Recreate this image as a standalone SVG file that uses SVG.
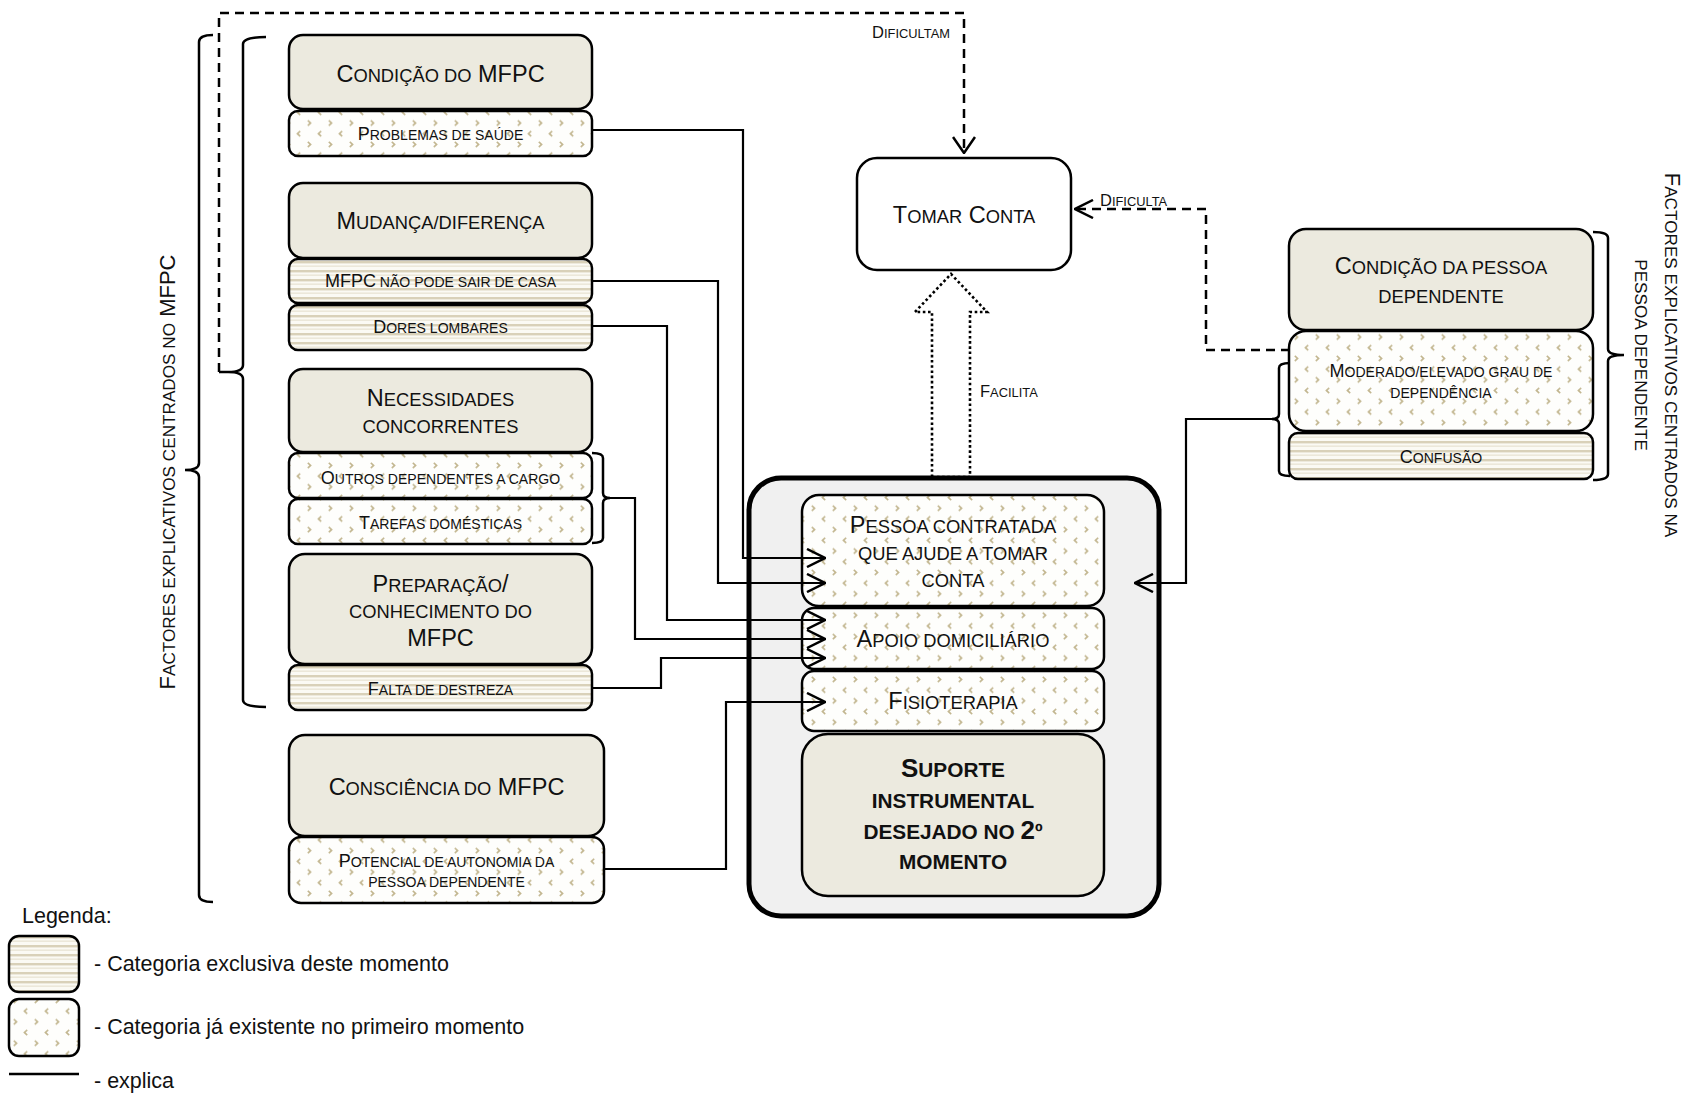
<svg xmlns="http://www.w3.org/2000/svg" width="1686" height="1095" viewBox="0 0 1686 1095">
<defs>
<style>
text{font-family:"Liberation Sans",Arial,sans-serif;fill:#111}
.m{font-size:23.5px;text-anchor:middle}
.s{font-size:18px;text-anchor:middle}
.k{font-size:0.78em}
.bd{font-weight:bold;font-size:26px;text-anchor:middle}
.bd .k{font-size:0.8em}
.lbl{font-size:16.5px}
.leg{font-size:21.5px}
.vt{font-size:22px;text-anchor:middle}
.main{fill:#eceadf;stroke:#000;stroke-width:2.5}
.old{fill:url(#chev);stroke:#000;stroke-width:2.5}
.new{fill:url(#stripes);stroke:#000;stroke-width:2.5}
.ln{fill:none;stroke:#000;stroke-width:2.2}
.dash{fill:none;stroke:#000;stroke-width:2.5;stroke-dasharray:9 6}
.br{fill:none;stroke:#000;stroke-width:2.5}
</style>
<pattern id="stripes" patternUnits="userSpaceOnUse" width="10" height="9">
<rect width="10" height="9" fill="#fbfaf4"/>
<rect y="0" width="10" height="2.4" fill="#d9d1b9"/>
<rect y="4.5" width="10" height="1.3" fill="#e9e4d4"/>
</pattern>
<pattern id="chev" patternUnits="userSpaceOnUse" width="21" height="21.4">
<rect width="21" height="21.4" fill="#fefefc"/>
<path d="M6.2,2.8 L3.4,5.3 L6.2,7.8" fill="none" stroke="#c2b68f" stroke-width="1.6"/>
<path d="M13.8,13.5 L16.6,16 L13.8,18.5" fill="none" stroke="#c2b68f" stroke-width="1.6"/>
</pattern>
<marker id="arr" markerUnits="userSpaceOnUse" viewBox="0 0 20 20" refX="19" refY="10" markerWidth="20" markerHeight="20" orient="auto">
<path d="M1,1 L19,10 L1,19" fill="none" stroke="#000" stroke-width="2.5"/>
</marker>
<marker id="arrd" markerUnits="userSpaceOnUse" viewBox="0 0 18 24" refX="17" refY="12" markerWidth="18" markerHeight="24" orient="auto">
<path d="M1,1 L17,12 L1,23" fill="none" stroke="#000" stroke-width="2.5"/>
</marker>
</defs>

<rect width="1686" height="1095" fill="#fff"/>

<!-- brackets grouping the explanatory factors -->
<g id="brackets">
<path class="br" d="M213,35 Q199,35 199,42 V463 Q199,470 185,470 Q199,470 199,477 V895 Q199,902 213,902"/>
<path class="br" d="M266,37 Q243,37 243,44 V365 Q243,372 228,372 Q243,372 243,379 V700 Q243,707 266,707"/>
<path class="br" d="M592,453 Q603,453 603,458 V493 Q603,498 610,498 Q603,498 603,503 V538 Q603,543 592,543"/>
<path class="br" d="M1104,500 Q1115,500 1115,505 V578 Q1115,583 1126,583 Q1115,583 1115,588 V662 Q1115,667 1104,667"/>
<path class="br" d="M1290,363 Q1279,363 1279,368 V414 Q1279,419 1272,419 Q1279,419 1279,424 V471 Q1279,476 1290,476"/>
<path class="br" d="M1593,232 Q1608,232 1608,238 V349 Q1608,355 1624,355 Q1608,355 1608,361 V474 Q1608,480 1593,480"/>
<text class="vt" transform="translate(175,472) rotate(-90)">F<tspan class="k">ACTORES EXPLICATIVOS CENTRADOS NO</tspan> MFPC</text>
<text class="vt" transform="translate(1665,355) rotate(90)">F<tspan class="k">ACTORES EXPLICATIVOS CENTRADOS NA</tspan></text>
<text class="vt" transform="translate(1635,355) rotate(90)"><tspan class="k">PESSOA DEPENDENTE</tspan></text>
</g>

<!-- left column: factors centred on the caregiver -->
<g id="condicao-mfpc">
<rect class="main" x="289" y="35" width="303" height="74" rx="14"/>
<text class="m" x="440.5" y="82">C<tspan class="k">ONDIÇÃO DO</tspan> MFPC</text>
</g>
<g id="problemas-saude">
<rect class="old" x="289" y="111" width="303" height="45" rx="9"/>
<text class="s" x="440.5" y="140">P<tspan class="k">ROBLEMAS DE SAÚDE</tspan></text>
</g>
<g id="mudanca">
<rect class="main" x="289" y="183" width="303" height="75" rx="14"/>
<text class="m" x="440.5" y="229">M<tspan class="k">UDANÇA/DIFERENÇA</tspan></text>
</g>
<g id="nao-pode-sair">
<rect class="new" x="289" y="259" width="303" height="44" rx="9"/>
<text class="s" x="440.5" y="287">MFPC<tspan class="k"> NÃO PODE SAIR DE CASA</tspan></text>
</g>
<g id="dores-lombares">
<rect class="new" x="289" y="305" width="303" height="45" rx="9"/>
<text class="s" x="440.5" y="333">D<tspan class="k">ORES LOMBARES</tspan></text>
</g>
<g id="necessidades">
<rect class="main" x="289" y="369" width="303" height="83" rx="14"/>
<text class="m" x="440.5" y="406">N<tspan class="k">ECESSIDADES</tspan></text>
<text class="m" x="440.5" y="433"><tspan class="k">CONCORRENTES</tspan></text>
</g>
<g id="outros-dependentes">
<rect class="old" x="289" y="453" width="303" height="45" rx="9"/>
<text class="s" x="440.5" y="484">O<tspan class="k">UTROS DEPENDENTES A CARGO</tspan></text>
</g>
<g id="tarefas">
<rect class="old" x="289" y="499" width="303" height="45" rx="9"/>
<text class="s" x="440.5" y="529">T<tspan class="k">AREFAS DOMÉSTICAS</tspan></text>
</g>
<g id="preparacao">
<rect class="main" x="289" y="554" width="303" height="110" rx="16"/>
<text class="m" x="440.5" y="592">P<tspan class="k">REPARAÇÃO</tspan>/</text>
<text class="m" x="440.5" y="618"><tspan class="k">CONHECIMENTO DO</tspan></text>
<text class="m" x="440.5" y="646">MFPC</text>
</g>
<g id="falta-destreza">
<rect class="new" x="289" y="665" width="303" height="45" rx="9"/>
<text class="s" x="440.5" y="695">F<tspan class="k">ALTA DE DESTREZA</tspan></text>
</g>
<g id="consciencia">
<rect class="main" x="289" y="735" width="315" height="101" rx="16"/>
<text class="m" x="446.5" y="795">C<tspan class="k">ONSCIÊNCIA DO</tspan> MFPC</text>
</g>
<g id="potencial">
<rect class="old" x="289" y="837" width="315" height="66" rx="12"/>
<text class="s" x="446.5" y="867">P<tspan class="k">OTENCIAL DE AUTONOMIA DA</tspan></text>
<text class="s" x="446.5" y="887"><tspan class="k">PESSOA DEPENDENTE</tspan></text>
</g>

<!-- outcome -->
<g id="tomar-conta">
<rect x="857" y="158" width="214" height="112" rx="20" fill="#fff" stroke="#000" stroke-width="2.5"/>
<text class="m" x="964" y="223">T<tspan class="k">OMAR</tspan> C<tspan class="k">ONTA</tspan></text>
</g>

<!-- desired instrumental support -->
<g id="suporte-instrumental">
<rect x="749" y="478" width="410" height="438" rx="32" fill="#f0f0f0" stroke="#000" stroke-width="5"/>
<g id="pessoa-contratada">
<rect class="old" x="802" y="495" width="302" height="111" rx="17"/>
<text class="m" x="953" y="533">P<tspan class="k">ESSOA CONTRATADA</tspan></text>
<text class="m" x="953" y="560"><tspan class="k">QUE AJUDE A TOMAR</tspan></text>
<text class="m" x="953" y="587"><tspan class="k">CONTA</tspan></text>
</g>
<g id="apoio-domiciliario">
<rect class="old" x="802" y="608" width="302" height="61" rx="12"/>
<text class="m" x="953" y="647">A<tspan class="k">POIO DOMICILIÁRIO</tspan></text>
</g>
<g id="fisioterapia">
<rect class="old" x="802" y="671" width="302" height="60" rx="12"/>
<text class="m" x="953" y="709">F<tspan class="k">ISIOTERAPIA</tspan></text>
</g>
<g id="suporte-titulo">
<rect class="main" x="802" y="734" width="302" height="162" rx="26"/>
<text class="bd" x="953" y="777">S<tspan class="k">UPORTE</tspan></text>
<text class="bd" x="953" y="808"><tspan class="k">INSTRUMENTAL</tspan></text>
<text class="bd" x="953" y="839"><tspan class="k">DESEJADO NO </tspan>2<tspan class="k">º</tspan></text>
<text class="bd" x="953" y="869"><tspan class="k">MOMENTO</tspan></text>
</g>
</g>

<!-- right column: factors centred on the dependent person -->
<g id="condicao-pessoa">
<rect class="main" x="1289" y="229" width="304" height="101" rx="17"/>
<text class="m" x="1441" y="274">C<tspan class="k">ONDIÇÃO DA PESSOA</tspan></text>
<text class="m" x="1441" y="303"><tspan class="k">DEPENDENTE</tspan></text>
</g>
<g id="grau-dependencia">
<rect class="old" x="1289" y="331" width="304" height="100" rx="17"/>
<text class="s" x="1441" y="377">M<tspan class="k">ODERADO/ELEVADO GRAU DE</tspan></text>
<text class="s" x="1441" y="398"><tspan class="k">DEPENDÊNCIA</tspan></text>
</g>
<g id="confusao">
<rect class="new" x="1289" y="433" width="304" height="46" rx="9"/>
<text class="s" x="1441" y="463">C<tspan class="k">ONFUSÃO</tspan></text>
</g>

<!-- connectors -->
<g id="connectors">
<path class="ln" d="M592,130 H743 V558 H825" marker-end="url(#arr)"/>
<path class="ln" d="M592,281 H718 V583 H825" marker-end="url(#arr)"/>
<path class="ln" d="M592,326 H667 V620 H825" marker-end="url(#arr)"/>
<path class="ln" d="M610,498 H635 V639 H825" marker-end="url(#arr)"/>
<path class="ln" d="M592,688 H661 V658 H825" marker-end="url(#arr)"/>
<path class="ln" d="M604,869 H726 V702 H825" marker-end="url(#arr)"/>
<path class="ln" d="M1272,419 H1186 V583 H1135" marker-end="url(#arr)"/>
<path class="dash" d="M219,372 H228 M219,372 V13 H964 V153" marker-end="url(#arrd)"/>
<path class="dash" d="M1290,350 H1206 V209 H1075" marker-end="url(#arr)"/>
<polygon points="932,477 932,312 915,312 951,274 987,312 970,312 970,477" fill="none" stroke="#000" stroke-width="2.6" stroke-dasharray="2.6 2.6"/>
<text class="lbl" x="950" y="38" text-anchor="end">D<tspan class="k">IFICULTAM</tspan></text>
<text class="lbl" x="1100" y="206">D<tspan class="k">IFICULTA</tspan></text>
<text class="lbl" x="980" y="397">F<tspan class="k">ACILITA</tspan></text>
</g>

<!-- legend -->
<g id="legenda">
<text class="leg" x="22" y="923">Legenda:</text>
<rect class="new" x="9" y="936" width="70" height="56" rx="10"/>
<text class="leg" x="94" y="971">- Categoria exclusiva deste momento</text>
<rect class="old" x="9" y="999" width="70" height="57" rx="10"/>
<text class="leg" x="94" y="1034">- Categoria já existente no primeiro momento</text>
<line x1="9" y1="1074" x2="79" y2="1074" stroke="#000" stroke-width="2.5"/>
<text class="leg" x="94" y="1088">- explica</text>
</g>
</svg>
